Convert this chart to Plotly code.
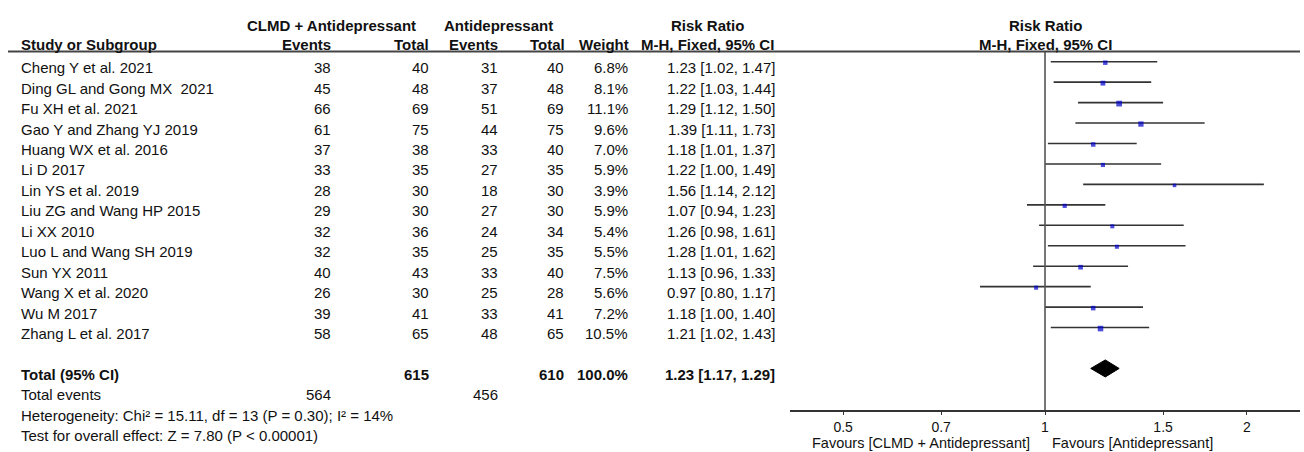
import math
import plotly.graph_objects as go

W, H = 1304, 452

# ---------------- data ----------------
studies = ["Cheng Y et al. 2021", "Ding GL and Gong MX\u00a0 2021", "Fu XH et al. 2021",
           "Gao Y and Zhang YJ 2019", "Huang WX et al. 2016", "Li D 2017", "Lin YS et al. 2019",
           "Liu ZG and Wang HP 2015", "Li XX 2010", "Luo L and Wang SH 2019", "Sun YX 2011",
           "Wang X et al. 2020", "Wu M 2017", "Zhang L et al. 2017"]
exp_events = [38, 45, 66, 61, 37, 33, 28, 29, 32, 32, 40, 26, 39, 58]
exp_total = [40, 48, 69, 75, 38, 35, 30, 30, 36, 35, 43, 30, 41, 65]
ctl_events = [31, 37, 51, 44, 33, 27, 18, 27, 24, 25, 33, 25, 33, 48]
ctl_total = [40, 48, 69, 75, 40, 35, 30, 30, 34, 35, 40, 28, 41, 65]
weights = [6.8, 8.1, 11.1, 9.6, 7.0, 5.9, 3.9, 5.9, 5.4, 5.5, 7.5, 5.6, 7.2, 10.5]
rr = [1.23, 1.22, 1.29, 1.39, 1.18, 1.22, 1.56, 1.07, 1.26, 1.28, 1.13, 0.97, 1.18, 1.21]
rr_lo = [1.02, 1.03, 1.12, 1.11, 1.01, 1.00, 1.14, 0.94, 0.98, 1.01, 0.96, 0.80, 1.00, 1.02]
rr_hi = [1.47, 1.44, 1.50, 1.73, 1.37, 1.49, 2.12, 1.23, 1.61, 1.62, 1.33, 1.17, 1.40, 1.43]

total_exp_n = 615
total_ctl_n = 610
total_weight = "100.0%"
total_rr, total_lo, total_hi = 1.23, 1.17, 1.29
total_exp_events = 564
total_ctl_events = 456
heterogeneity = "Heterogeneity: Chi\u00b2 = 15.11, df = 13 (P = 0.30); I\u00b2 = 14%"
overall = "Test for overall effect: Z = 7.80 (P < 0.00001)"

tick_vals = [0.5, 0.7, 1, 1.5, 2]
tick_text = ["0.5", "0.7", "1", "1.5", "2"]
favours_left = "Favours [CLMD + Antidepressant]"
favours_right = "Favours [Antidepressant]"

# ---------------- layout constants ----------------
FONT = "Liberation Sans, Arial, sans-serif"
FS = 15
TXT = "#111111"
ROW0, PITCH = 67.7, 20.45
FOREST_SHIFT = -6.0
AXIS_Y = 410
HEADER_LINE_Y = 51.5
RR_HEAD_X = 707


def row_y(i):
    return ROW0 + i * PITCH


n = len(studies)
fig = go.Figure()

# CI lines
xs, ys = [], []
for i in range(n):
    yy = row_y(i) + FOREST_SHIFT
    xs += [rr_lo[i], rr_hi[i], None]
    ys += [yy, yy, None]
fig.add_trace(go.Scatter(x=xs, y=ys, mode="lines", line=dict(color="#333333", width=1.6),
                         xaxis="x2", yaxis="y2", hoverinfo="skip", showlegend=False))

# squares
fig.add_trace(go.Scatter(x=rr, y=[row_y(i) + FOREST_SHIFT + 1 for i in range(n)], mode="markers",
                         marker=dict(symbol="square", color="#0000CC", size=[2.4 + 0.3 * w for w in weights],
                                     line=dict(width=0)),
                         xaxis="x2", yaxis="y2", hoverinfo="skip", showlegend=False))

# line of no effect
fig.add_trace(go.Scatter(x=[1, 1], y=[HEADER_LINE_Y, AXIS_Y], mode="lines",
                         line=dict(color="#555555", width=1.6),
                         xaxis="x2", yaxis="y2", hoverinfo="skip", showlegend=False))

# diamond
yc = row_y(15) + FOREST_SHIFT
hh = 8.5
fig.add_trace(go.Scatter(x=[total_lo, total_rr, total_hi, total_rr, total_lo],
                         y=[yc, yc - hh, yc, yc + hh, yc], mode="lines", fill="toself",
                         fillcolor="#000000", line=dict(color="#000000", width=1),
                         xaxis="x2", yaxis="y2", hoverinfo="skip", showlegend=False))

ann = []


def txt(x, y, s, anchor="right", bold=False, size=FS, yanchor="middle"):
    ann.append(dict(x=x, y=y, xref="x", yref="y", text=("<b>%s</b>" % s) if bold else s,
                    showarrow=False, xanchor=anchor, yanchor=yanchor, borderpad=0,
                    font=dict(family=FONT, size=size, color=TXT)))


# header
HY1, HY2 = 25, 44
txt(331, HY1, "CLMD + Antidepressant", "center", True)
txt(498, HY1, "Antidepressant", "center", True)
txt(RR_HEAD_X, HY1, "Risk Ratio", "center", True)
txt(1045, HY1, "Risk Ratio", "center", True)
txt(20, HY2, "Study or Subgroup", "left", True)
txt(332, HY2, "Events", "right", True)
txt(430, HY2, "Total", "right", True)
txt(499, HY2, "Events", "right", True)
txt(566, HY2, "Total", "right", True)
txt(630, HY2, "Weight", "right", True)
txt(RR_HEAD_X, HY2, "M-H, Fixed, 95% CI", "center", True)
txt(1045, HY2, "M-H, Fixed, 95% CI", "center", True)

# study rows
for i in range(n):
    y = row_y(i)
    txt(20, y, studies[i], "left")
    txt(332, y, str(exp_events[i]))
    txt(430, y, str(exp_total[i]))
    txt(499, y, str(ctl_events[i]))
    txt(565, y, str(ctl_total[i]))
    txt(629, y, "%.1f%%" % weights[i])
    txt(776, y, "%.2f [%.2f, %.2f]" % (rr[i], rr_lo[i], rr_hi[i]))

# totals
y = row_y(15)
txt(20, y, "Total (95% CI)", "left", True)
txt(430, y, str(total_exp_n), "right", True)
txt(565, y, str(total_ctl_n), "right", True)
txt(629, y, total_weight, "right", True)
txt(776, y, "%.2f [%.2f, %.2f]" % (total_rr, total_lo, total_hi), "right", True)
y = row_y(16)
txt(20, y, "Total events", "left")
txt(332, y, str(total_exp_events))
txt(499, y, str(total_ctl_events))
txt(20, row_y(17), heterogeneity, "left")
txt(20, row_y(18), overall, "left")

# favours
txt(1031, 452, favours_left, "right", size=14.5, yanchor="bottom")
txt(1051, 452, favours_right, "left", size=14.5, yanchor="bottom")

fig.update_layout(
    width=W, height=H, margin=dict(l=0, r=0, t=0, b=0),
    paper_bgcolor="white", plot_bgcolor="rgba(0,0,0,0)",
    showlegend=False, annotations=ann,
    shapes=[dict(type="line", xref="x", yref="y", x0=8, x1=1300, y0=HEADER_LINE_Y, y1=HEADER_LINE_Y,
                 line=dict(color="#444444", width=2))],
    xaxis=dict(range=[0, W], domain=[0, 1], visible=False, fixedrange=True),
    yaxis=dict(range=[H, 0], domain=[0, 1], visible=False, fixedrange=True),
    xaxis2=dict(type="log", range=[math.log10(1 / 2.4), math.log10(2.4)],
                domain=[790 / W, 1300 / W], anchor="y2", showline=True, linecolor="#333333",
                linewidth=1.6, ticks="outside", ticklen=3, tickwidth=1.4, tickcolor="#333333",
                tickvals=tick_vals, ticktext=tick_text, showgrid=False, zeroline=False,
                tickfont=dict(family=FONT, size=14, color=TXT)),
    yaxis2=dict(range=[AXIS_Y, 0], domain=[(H - AXIS_Y) / H, 1], anchor="x2", visible=False,
                fixedrange=True),
)

fig.write_html("out.html")
